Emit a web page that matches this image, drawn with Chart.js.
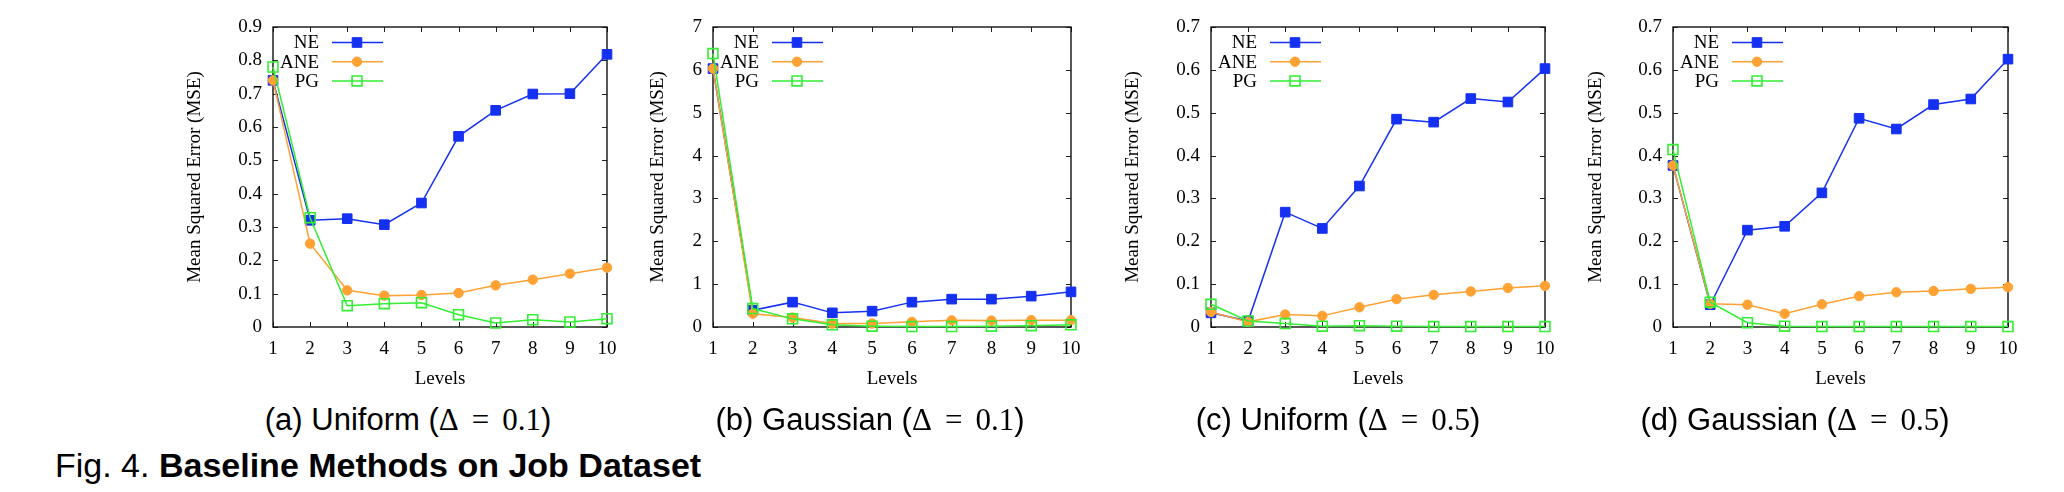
<!DOCTYPE html>
<html>
<head>
<meta charset="utf-8">
<script src="https://cdn.jsdelivr.net/npm/chart.js@4.4.1/dist/chart.umd.min.js"></script>
<style>
  html, body { margin: 0; padding: 0; background: #fff; }
  body { width: 2064px; height: 492px; position: relative; overflow: hidden; }
  canvas { position: absolute; top: 0; }
  .cap { position: absolute; font-family: "Liberation Sans", Arial, sans-serif; font-size: 31px;
         line-height: 31px; white-space: nowrap; color: #000; }
  .fig { font-size: 34px; line-height: 34px; }
  .mid { transform: translateX(-50%); }
  .m { font-family: "Liberation Serif", "Times New Roman", serif; }
  .d { margin-right: 0.42em; }
  .eq { margin-right: 0.42em; }
</style>
</head>
<body>
<canvas id="ca" width="494" height="400" style="left:143px"></canvas>
<canvas id="cb" width="518" height="400" style="left:583px"></canvas>
<canvas id="cc" width="494" height="400" style="left:1081px"></canvas>
<canvas id="cd" width="495" height="400" style="left:1543px"></canvas>

<div class="cap mid" style="left:408px;top:404px">(a) Uniform (<span class="m d">Δ</span><span class="m eq">=</span><span class="m">0.1</span>)</div>
<div class="cap mid" style="left:870px;top:404px">(b) Gaussian (<span class="m d">Δ</span><span class="m eq">=</span><span class="m">0.1</span>)</div>
<div class="cap mid" style="left:1338px;top:404px">(c) Uniform (<span class="m d">Δ</span><span class="m eq">=</span><span class="m">0.5</span>)</div>
<div class="cap mid" style="left:1795px;top:404px">(d) Gaussian (<span class="m d">Δ</span><span class="m eq">=</span><span class="m">0.5</span>)</div>
<div class="cap fig" style="left:55px;top:448px">Fig. 4. <b>Baseline Methods on Job Dataset</b></div>

<script>
const levels = ['1', '2', '3', '4', '5', '6', '7', '8', '9', '10'];
const seriesNames = ['NE', 'ANE', 'PG'];

// (a) Uniform, delta 0.1
const neA = [0.74, 0.32, 0.325, 0.307, 0.372, 0.572, 0.65, 0.699, 0.70, 0.818];
const aneA = [0.74, 0.25, 0.11, 0.094, 0.096, 0.102, 0.125, 0.142, 0.16, 0.178];
const pgA = [0.78, 0.328, 0.064, 0.07, 0.073, 0.037, 0.012, 0.022, 0.015, 0.025];

// (b) Gaussian, delta 0.1
const neB = [6.03, 0.39, 0.58, 0.33, 0.37, 0.58, 0.65, 0.65, 0.72, 0.82];
const aneB = [6.03, 0.31, 0.22, 0.08, 0.08, 0.12, 0.155, 0.15, 0.16, 0.16];
const pgB = [6.38, 0.43, 0.19, 0.05, 0.02, 0.01, 0.01, 0.02, 0.03, 0.05];

// (c) Uniform, delta 0.5
const neC = [0.033, 0.014, 0.268, 0.230, 0.329, 0.485, 0.478, 0.533, 0.525, 0.603];
const aneC = [0.035, 0.012, 0.029, 0.026, 0.046, 0.065, 0.075, 0.083, 0.091, 0.096];
const pgC = [0.053, 0.014, 0.008, 0.002, 0.003, 0.002, 0.001, 0.001, 0.001, 0.001];

// (d) Gaussian, delta 0.5
const neD = [0.377, 0.052, 0.226, 0.235, 0.313, 0.487, 0.462, 0.519, 0.532, 0.625];
const aneD = [0.377, 0.054, 0.052, 0.031, 0.053, 0.072, 0.081, 0.084, 0.089, 0.093];
const pgD = [0.414, 0.058, 0.01, 0.002, 0.001, 0.001, 0.001, 0.001, 0.001, 0.001];

const yMaxes = [0.9, 7, 0.7, 0.7];
const ySteps = [0.1, 1, 0.1, 0.1];

const BLUE = '#1430f2';
const ORANGE = '#ffa233';
const GREEN = '#33ee33';
const SERIF = "'Liberation Serif', 'Times New Roman', serif";

Chart.defaults.font.family = SERIF;
Chart.defaults.color = '#000';

// gnuplot style border with inward ticks on all four sides
const framePlugin = {
  id: 'frame',
  beforeDatasetsDraw(chart) {
    const { ctx, chartArea: a, scales: { x, y } } = chart;
    ctx.save();
    ctx.strokeStyle = '#222';
    ctx.lineWidth = 1;
    ctx.beginPath();
    y.ticks.forEach((t, i) => {
      const py = Math.round(y.getPixelForTick(i)) + 0.5;
      ctx.moveTo(a.left, py); ctx.lineTo(a.left + 5, py);
      ctx.moveTo(a.right, py); ctx.lineTo(a.right - 5, py);
    });
    x.ticks.forEach((t, i) => {
      const px = Math.round(x.getPixelForTick(i)) + 0.5;
      ctx.moveTo(px, a.bottom); ctx.lineTo(px, a.bottom - 5);
      ctx.moveTo(px, a.top); ctx.lineTo(px, a.top + 5);
    });
    ctx.stroke();
    ctx.lineWidth = 1.4;
    ctx.strokeStyle = '#111';
    ctx.strokeRect(a.left, a.top, a.right - a.left, a.bottom - a.top);
    ctx.restore();
  }
};

// key in the top left corner: name, then a line sample with the marker
const keyPlugin = {
  id: 'key',
  afterDatasetsDraw(chart) {
    const { ctx, chartArea: a } = chart;
    ctx.save();
    ctx.font = '19px ' + SERIF;
    ctx.textAlign = 'right';
    ctx.textBaseline = 'middle';
    chart.data.datasets.forEach((ds, i) => {
      const yy = a.top + 15.5 + i * 19.2;
      ctx.fillStyle = '#000';
      ctx.fillText(ds.label, a.left + 46, yy + 1);
      ctx.strokeStyle = ds.borderColor;
      ctx.lineWidth = ds.borderWidth;
      ctx.beginPath();
      ctx.moveTo(a.left + 59, yy); ctx.lineTo(a.left + 110, yy);
      ctx.stroke();
      ctx.fillStyle = ds.pointBackgroundColor;
      ctx.strokeStyle = ds.borderColor;
      ctx.lineWidth = ds.pointBorderWidth;
      Chart.helpers.drawPoint(ctx, {
        pointStyle: ds.pointStyle, radius: ds.pointRadius, rotation: 0, borderWidth: ds.pointBorderWidth
      }, a.left + 84, yy);
    });
    ctx.restore();
  }
};

function makeChart(id, ne, ane, pg, yMax, yStep, titlePad) {
  new Chart(document.getElementById(id), {
    type: 'line',
    data: {
      labels: levels,
      datasets: [
        {
          label: seriesNames[0], data: ne, order: 2, clip: false,
          borderColor: BLUE, backgroundColor: BLUE, pointBackgroundColor: BLUE,
          borderWidth: 1.5, pointStyle: 'rect', pointRadius: 6.8, pointBorderWidth: 1
        },
        {
          label: seriesNames[1], data: ane, order: 1, clip: false,
          borderColor: ORANGE, backgroundColor: ORANGE, pointBackgroundColor: ORANGE,
          borderWidth: 1.5, pointStyle: 'circle', pointRadius: 4.7, pointBorderWidth: 1
        },
        {
          label: seriesNames[2], data: pg, order: 0, clip: false,
          borderColor: GREEN, backgroundColor: 'rgba(0,0,0,0)', pointBackgroundColor: 'rgba(0,0,0,0)',
          borderWidth: 1.5, pointStyle: 'rect', pointRadius: 7, pointBorderWidth: 1.6
        }
      ]
    },
    options: {
      responsive: false,
      animation: false,
      devicePixelRatio: 1,
      events: [],
      layout: { padding: { top: 27, right: 30, left: 0, bottom: 0 } },
      plugins: { legend: { display: false }, tooltip: { enabled: false } },
      elements: { line: { tension: 0 } },
      scales: {
        x: {
          type: 'category',
          offset: false,
          grid: { display: false, drawTicks: false },
          border: { display: false },
          ticks: { font: { size: 19 }, padding: 10.5, maxRotation: 0, autoSkip: false },
          title: { display: true, text: 'Levels', font: { size: 19 }, padding: { top: 0, bottom: 10 } },
          afterFit(s) { s.height = 73; s.paddingLeft = 0; s.paddingRight = 0; }
        },
        y: {
          min: 0, max: yMax,
          grid: { display: false, drawTicks: false },
          border: { display: false },
          ticks: { stepSize: yStep, font: { size: 19 }, padding: 11 },
          title: { display: true, text: 'Mean Squared Error (MSE)', font: { size: 19 }, padding: { top: titlePad, bottom: 0 } },
          afterFit(s) { s.width = 130; s.paddingTop = 0; s.paddingBottom = 0; }
        }
      }
    },
    plugins: [framePlugin, keyPlugin]
  });
}

makeChart('ca', neA, aneA, pgA, yMaxes[0], ySteps[0], 40.6);
makeChart('cb', neB, aneB, pgB, yMaxes[1], ySteps[1], 63.6);
makeChart('cc', neC, aneC, pgC, yMaxes[2], ySteps[2], 40.6);
makeChart('cd', neD, aneD, pgD, yMaxes[3], ySteps[3], 41.6);
</script>
</body>
</html>
